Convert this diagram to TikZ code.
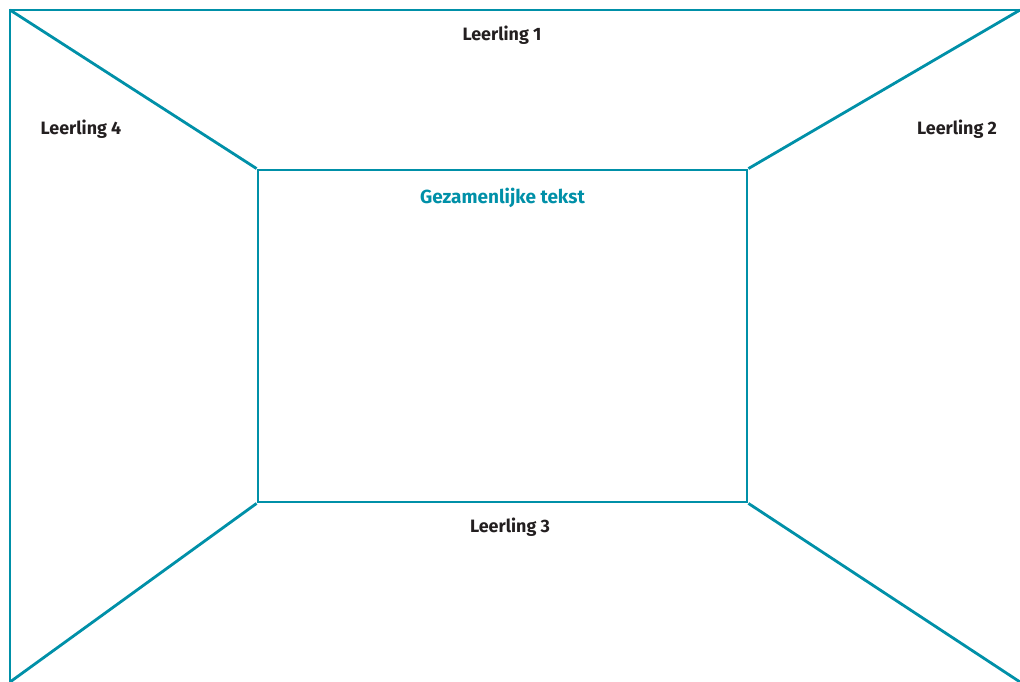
\documentclass[tikz,border=0pt]{standalone}
\usepackage{fontspec}
\setmainfont{Fira Sans}
\usetikzlibrary{positioning}
\definecolor{myteal}{RGB}{0,144,168}
\definecolor{mytext}{RGB}{35,31,32}

\begin{document}
\begin{tikzpicture}[x=0.02cm, y=-0.02cm,
    rand/.style={draw=myteal, line width=1.6pt},
    leerling/.style={font=\fontsize{10.2}{12}\selectfont\bfseries, text=mytext},
    samen/.style={font=\fontsize{10.8}{13}\selectfont\bfseries, text=myteal}]
            \useasboundingbox (0,0) rectangle (1020,682);
            % hoeken buitenkant
            \coordinate (lb) at (10,10);
            \coordinate (rb) at (1020,10);
            \coordinate (ro) at (1020,682);
            \coordinate (lo) at (10,682);
            % middenvlak
            \node[rand, minimum width=489*0.02cm, minimum height=332*0.02cm, inner sep=0pt] (midden) at (502.5,336) {};
            \draw[rand] (lo) -- (lb) -- (rb);
            \draw[rand] (lb) -- (midden.north west);
            \draw[rand] (rb) -- (midden.north east);
            \draw[rand] (ro) -- (midden.south east);
            \draw[rand] (lo) -- (midden.south west);
            % teksten
            \node[leerling] (l1) at (502,35) {Leerling 1};
            \node[leerling] (l2) at (957,129) {Leerling 2};
            \node[leerling] (l3) at (510,527) {Leerling 3};
            \node[leerling] (l4) at (81,129) {Leerling 4};
            \node[samen, below=13*0.02cm of midden.north] (gt) {Gezamenlijke tekst};
        \end{tikzpicture}
\end{document}
